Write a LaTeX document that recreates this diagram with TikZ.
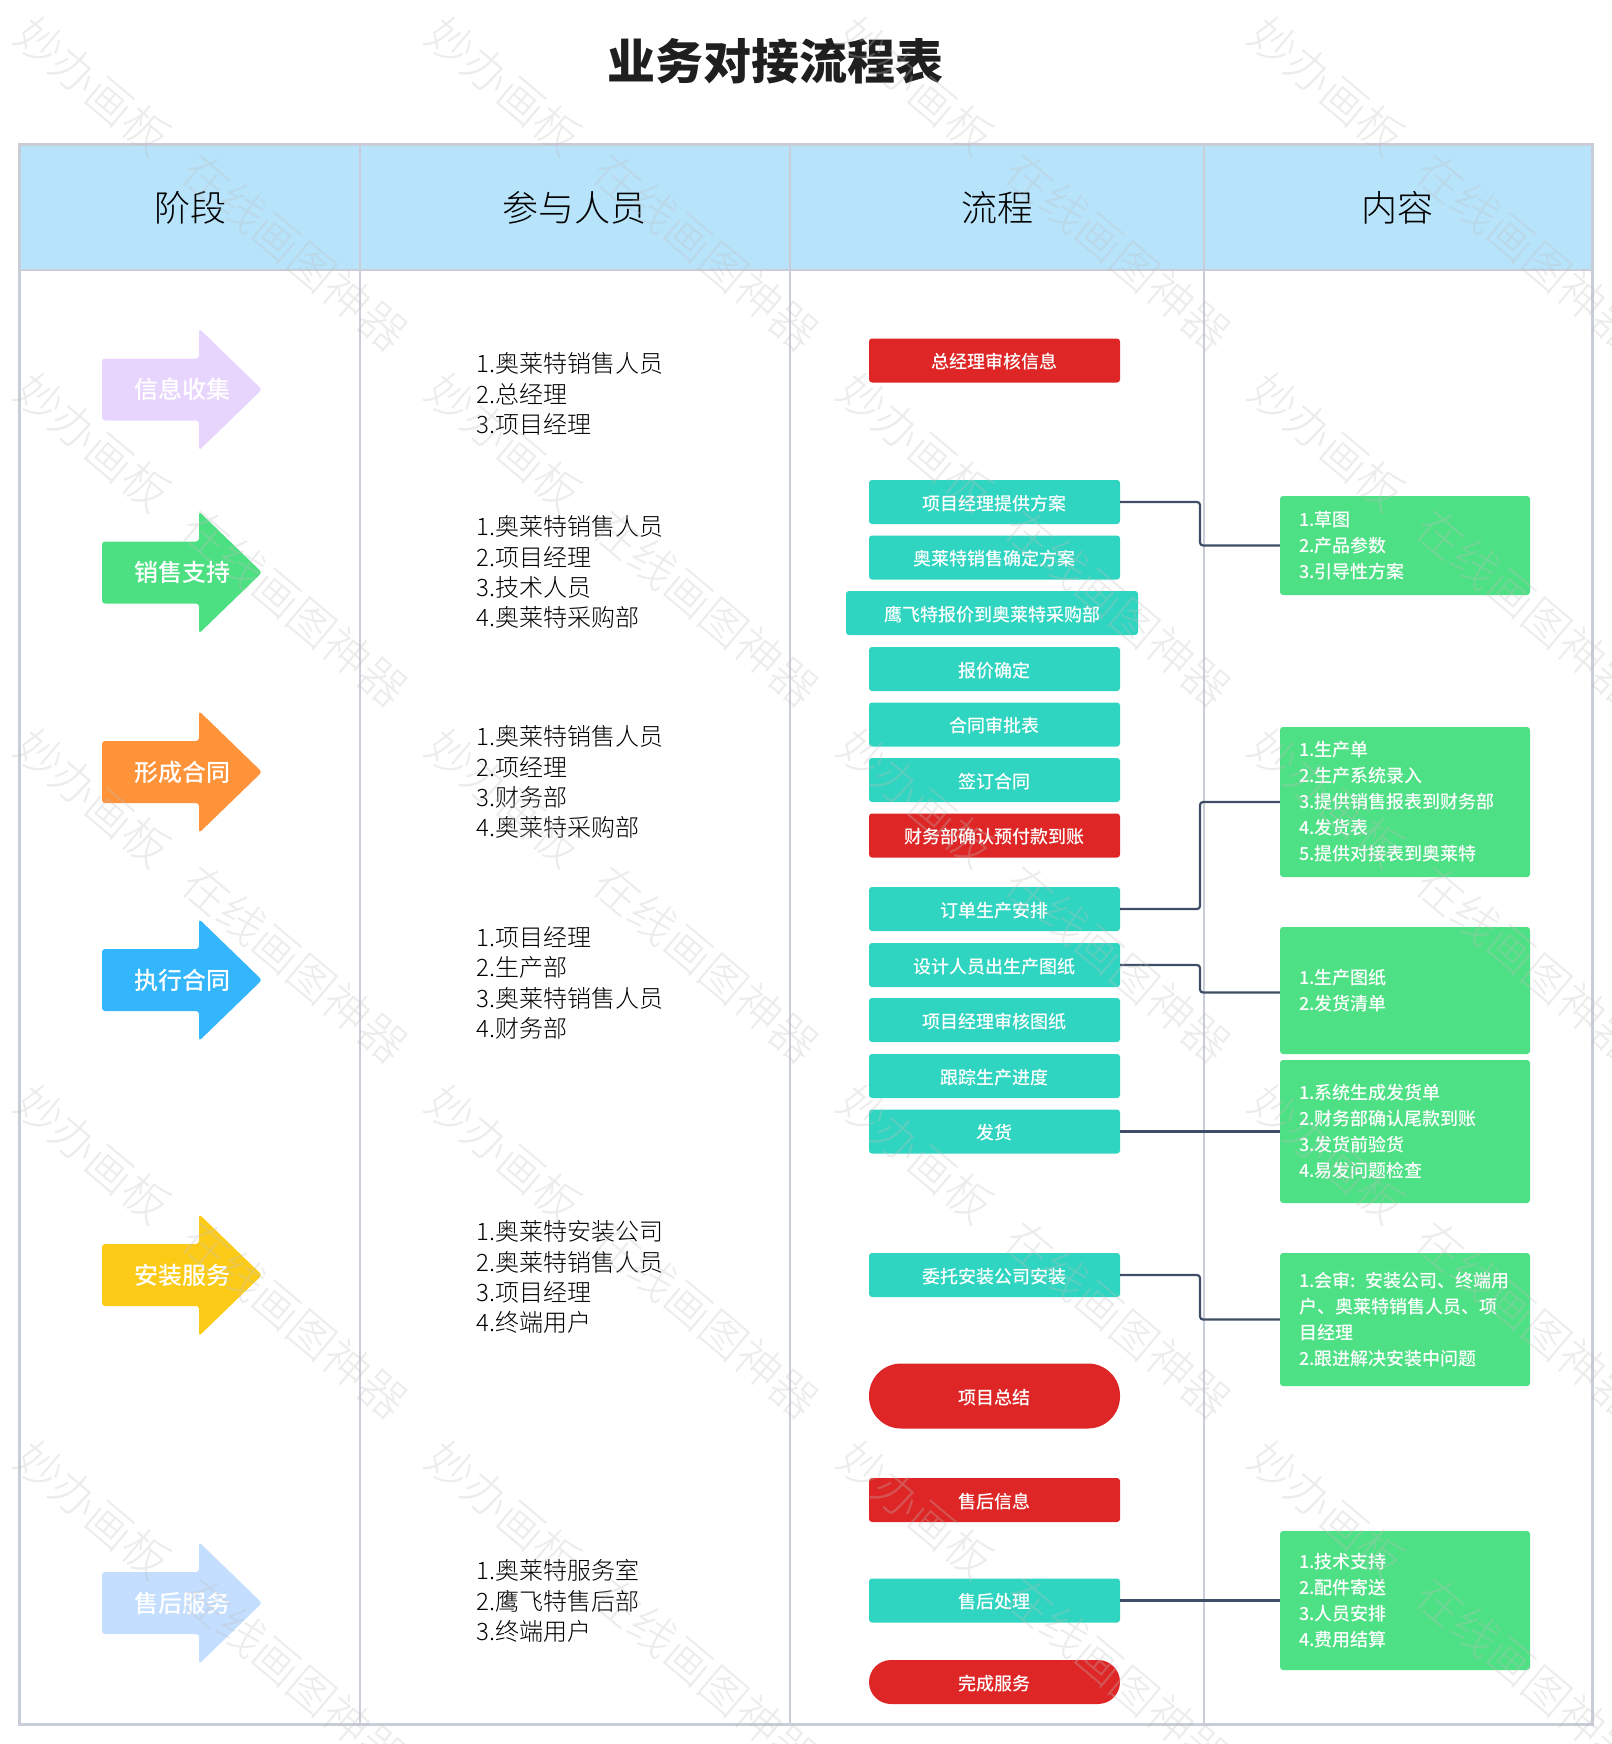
\documentclass[tikz,border=0pt]{standalone}
\usepackage{fontspec}
\setmainfont{Noto Sans CJK SC}
\newfontfamily\cjkmedium{Noto Sans CJK SC Medium}
\newfontfamily\cjklight{Noto Sans CJK SC Light}
\definecolor{gridline}{HTML}{C8CDD8}
\definecolor{headfill}{HTML}{B7E3FB}
\definecolor{tealbox}{HTML}{2FD5C0}
\definecolor{redbox}{HTML}{DE2626}
\definecolor{greenbox}{HTML}{4EE084}
\definecolor{linkline}{HTML}{3F4E66}
\definecolor{stageA}{HTML}{E8D5FD}
\definecolor{stageB}{HTML}{4DE082}
\definecolor{stageC}{HTML}{FF9339}
\definecolor{stageD}{HTML}{33B6FC}
\definecolor{stageE}{HTML}{FCCB18}
\definecolor{stageF}{HTML}{C3DEFF}
\tikzset{
    headtext/.style={text=black,font=\fontsize{36}{42}\cjklight\selectfont},
    stagetext/.style={text=white,font=\fontsize{24}{28}\cjkmedium\selectfont},
    people/.style={anchor=west,align=left,inner sep=0pt,text=black,font=\fontsize{24}{30.2}\cjklight\selectfont},
    flowbox/.style={fill=tealbox,text=white,rounded corners=3pt,minimum width=251pt,minimum height=44pt,inner sep=0pt,text height=18pt,text depth=1.2pt,font=\fontsize{18}{22}\cjkmedium\selectfont},
    redflow/.style={flowbox,fill=redbox},
    content/.style={fill=greenbox,text=white,rounded corners=3pt,minimum width=250pt,text width=212pt,inner xsep=19pt,inner ysep=0pt,align=left,font=\fontsize{18}{26}\cjkmedium\selectfont},
    link/.style={draw=linkline,line width=2.2pt,rounded corners=3pt},
    wmark/.style={text=gray!50,opacity=0.3,rotate=-40,inner sep=0pt,font=\fontsize{46}{52}\cjklight\selectfont},
}
\begin{document}
\begin{tikzpicture}[x=1pt,y=-1pt]
    \useasboundingbox (0,0) rectangle (1611,1744);
    % title
    \node[text=black!88] (title) at (775.5,61) {\fontsize{48}{56}\selectfont\bfseries 业务对接流程表};
    % table
    \fill[headfill] (19.5,144.5) rectangle (1592,270);
    \draw[gridline,line width=1.6pt] (19.5,270) -- (1592,270);
    \draw[gridline,line width=1.6pt] (360,144.5) -- (360,1724);
    \draw[gridline,line width=1.6pt] (790,144.5) -- (790,1724);
    \draw[gridline,line width=1.6pt] (1204,144.5) -- (1204,1724);
    \draw[gridline,line width=3pt] (19.5,144.5) rectangle (1592,1724);
    % table head
    \node[headtext] (headstage) at (190,208) {阶段};
    \node[headtext] (headpeople) at (574,208) {参与人员};
    \node[headtext] (headflow) at (997,208) {流程};
    \node[headtext] (headcontent) at (1397,208) {内容};
    % stage arrows
    \foreach \y/\col/\txt in {389.5/stageA/信息收集,572.5/stageB/销售支持,772/stageC/形成合同,980/stageD/执行合同,1275/stageE/安装服务,1603/stageF/售后服务} {
        \fill[\col,rounded corners=3pt] (102,\y-31) -- (199,\y-31) -- (199,\y-61) -- (262,\y) -- (199,\y+61) -- (199,\y+31) -- (102,\y+31) -- cycle;
        \node[stagetext] (\col text) at (182.5,\y) {\txt};
    }
    % people
    \node[people] (peopleA) at (476,394) {1.奥莱特销售人员\\2.总经理\\3.项目经理};
    \node[people] (peopleB) at (476,572) {1.奥莱特销售人员\\2.项目经理\\3.技术人员\\4.奥莱特采购部};
    \node[people] (peopleC) at (476,782) {1.奥莱特销售人员\\2.项经理\\3.财务部\\4.奥莱特采购部};
    \node[people] (peopleD) at (476,983) {1.项目经理\\2.生产部\\3.奥莱特销售人员\\4.财务部};
    \node[people] (peopleE) at (476,1277) {1.奥莱特安装公司\\2.奥莱特销售人员\\3.项目经理\\4.终端用户};
    \node[people] (peopleF) at (476,1601) {1.奥莱特服务室\\2.鹰飞特售后部\\3.终端用户};
    % flow boxes
    \node[redflow] (review) at (994.5,360.5) {总经理审核信息};
    \node[flowbox] (plan) at (994.5,502) {项目经理提供方案};
    \node[flowbox] (confirm) at (994.5,557.5) {奥莱特销售确定方案};
    \node[flowbox,minimum width=292pt] (quote) at (992,613) {鹰飞特报价到奥莱特采购部};
    \node[flowbox] (price) at (994.5,669) {报价确定};
    \node[flowbox] (approve) at (994.5,724.5) {合同审批表};
    \node[flowbox] (sign) at (994.5,780) {签订合同};
    \node[redflow] (advance) at (994.5,835.5) {财务部确认预付款到账};
    \node[flowbox] (order) at (994.5,909) {订单生产安排};
    \node[flowbox] (design) at (994.5,965) {设计人员出生产图纸};
    \node[flowbox] (check) at (994.5,1020) {项目经理审核图纸};
    \node[flowbox] (track) at (994.5,1076) {跟踪生产进度};
    \node[flowbox] (ship) at (994.5,1131.5) {发货};
    \node[flowbox] (install) at (994.5,1275) {委托安装公司安装};
    \node[redflow,minimum height=65pt,rounded corners=32pt] (summary) at (994.5,1396) {项目总结};
    \node[redflow] (afterinfo) at (994.5,1500) {售后信息};
    \node[flowbox] (afterdo) at (994.5,1600.5) {售后处理};
    \node[redflow,rounded corners=22pt] (finish) at (994.5,1682) {完成服务};
    % content boxes
    \node[content,minimum height=99pt] (sketch) at (1405,545.5) {1.草图\\2.产品参数\\3.引导性方案};
    \node[content,minimum height=150pt] (produce) at (1405,802) {1.生产单\\2.生产系统录入\\3.提供销售报表到财务部\\4.发货表\\5.提供对接表到奥莱特};
    \node[content,minimum height=127pt] (drawing) at (1405,990.5) {1.生产图纸\\2.发货清单\\[2pt]};
    \node[content,minimum height=143pt] (delivery) at (1405,1131.5) {1.系统生成发货单\\2.财务部确认尾款到账\\3.发货前验货\\4.易发问题检查};
    \node[content,minimum height=133pt] (meeting) at (1405,1319.5) {\mbox{1.会审: 安装公司、终端用}\\户、奥莱特销售人员、项\\目经理\\2.跟进解决安装中问题};
    \node[content,minimum height=139pt] (service) at (1405,1600.5) {1.技术支持\\2.配件寄送\\3.人员安排\\4.费用结算};
    % connectors
    \coordinate (midline) at (1200,0);
    \coordinate (drawingin) at ([yshift=-2pt]drawing.west);
    \draw[link] (plan.east) -- (plan.east -| midline) -- (sketch.west -| midline) -- (sketch.west);
    \draw[link] (order.east) -- (order.east -| midline) -- (produce.west -| midline) -- (produce.west);
    \draw[link] (design.east) -- (design.east -| midline) -- (drawingin -| midline) -- (drawingin);
    \draw[link] (ship.east) -- (delivery.west);
    \draw[link] (install.east) -- (install.east -| midline) -- (meeting.west -| midline) -- (meeting.west);
    \draw[link] (afterdo.east) -- (service.west);
    % watermarks
    \foreach \i/\x in {1/93,2/504.5,3/916,4/1327.5} {
        \foreach \j/\y in {1/86,2/442,3/798,4/1154,5/1510} {
            \node[wmark] (marka\i\j) at (\x,\y) {妙办画板};
        }
    }
    \foreach \i/\x in {1/295,2/706.5,3/1118,4/1529.5} {
        \foreach \j/\y in {1/252,2/608,3/964,4/1320,5/1676} {
            \node[wmark] (markb\i\j) at (\x,\y) {在线画图神器};
        }
    }
\end{tikzpicture}
\end{document}
